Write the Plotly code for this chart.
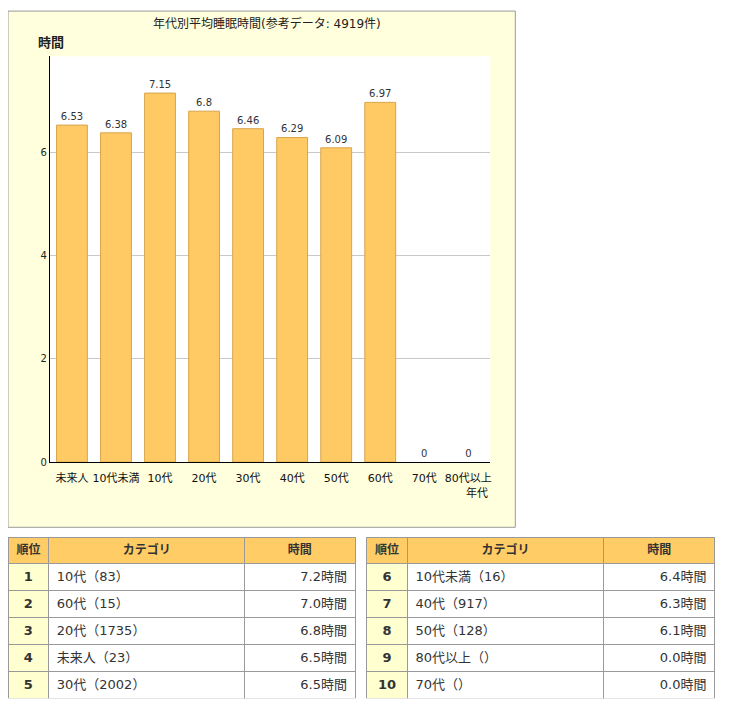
import plotly.graph_objects as go

# chart data
categories = ["未来人", "10代未満", "10代", "20代", "30代", "40代", "50代", "60代", "70代", "80代以上"]
hours = [6.53, 6.38, 7.15, 6.8, 6.46, 6.29, 6.09, 6.97, 0, 0]
counts = [23, 16, 83, 1735, 2002, 917, 128, 15, None, None]
y_ticks = [0, 2, 4, 6]

# ranking order as shown in the tables
rank_order = ["10代", "60代", "20代", "未来人", "30代", "10代未満", "40代", "50代", "80代以上", "70代"]

# the page body adds an 8px margin on every side; the capture shrinks a little vertically
OFF = 8
SY = 0.9905
W, H = 745 - 2 * OFF, 712 - 2 * OFF
FONT = "DejaVu Sans, Noto Sans CJK JP"


def px_x(v):
    return max(v - OFF, 0) / W


def px_y(v):
    return 1 - max(v / SY - OFF, 0) / H


fig = go.Figure()

fig.add_trace(go.Bar(
    x=categories, y=hours,
    text=[f"{v:g}" for v in hours], textposition="outside",
    textfont=dict(size=10, color="#333333", family=FONT),
    marker=dict(color="#FFC964",
                line=dict(color="#D9A44A", width=[1 if v > 0 else 0 for v in hours])),
    cliponaxis=False, hoverinfo="x+y",
))

# ranking tables
rows = []
for i, cat in enumerate(rank_order):
    k = categories.index(cat)
    cnt = "" if counts[k] is None else str(counts[k])
    rows.append((str(i + 1), f"{cat}（{cnt}）", f"{hours[k]:.1f}時間"))

for part, (x0, x1) in zip([rows[:5], rows[5:]], [(8, 356), (367, 716)]):
    fig.add_trace(go.Table(
        domain=dict(x=[px_x(x0), px_x(x1)], y=[px_y(697), px_y(536)]),
        columnwidth=[41, 197, 111],
        header=dict(
            values=["順位", "カテゴリ", "時間"],
            fill_color="#FFCC66", line_color="#999999",
            align="center", height=26,
            font=dict(size=12, color="#333333", family=FONT, weight="bold"),
        ),
        cells=dict(
            values=[[r[0] for r in part], [r[1] for r in part], [r[2] for r in part]],
            fill_color=["#FFFFD0", "white", "white"], line_color="#999999",
            align=["center", "left", "right"], height=27,
            font=dict(size=13, color="#333333", family=FONT,
                      weight=["bold", "normal", "normal"]),
        ),
    ))

# chart panel background
fig.add_shape(type="rect", xref="paper", yref="paper",
              x0=px_x(8), x1=px_x(516), y0=px_y(526), y1=px_y(11),
              fillcolor="#FFFFDD", line=dict(color="#999999", width=1), layer="below")
fig.add_shape(type="rect", xref="x domain", yref="y domain",
              x0=0, x1=1, y0=0, y1=1,
              fillcolor="white", line=dict(width=0), layer="below")

fig.add_annotation(text="年代別平均睡眠時間(参考データ: 4919件)", xref="paper", yref="paper",
                   x=px_x(267), y=px_y(23), yanchor="middle", showarrow=False,
                   font=dict(size=12, color="#222222", family=FONT))
fig.add_annotation(text="時間", xref="paper", yref="paper",
                   x=px_x(36), y=px_y(42), xanchor="left", yanchor="middle", showarrow=False,
                   font=dict(size=13, color="#222222", family=FONT, weight="bold"))
fig.add_annotation(text="年代", xref="paper", yref="paper",
                   x=px_x(491), y=px_y(492), xanchor="right", yanchor="middle", showarrow=False,
                   font=dict(size=11, color="#111111", family=FONT))

fig.update_layout(
    width=W, height=H,
    margin=dict(l=0, r=0, t=0, b=0),
    paper_bgcolor="white", plot_bgcolor="white",
    showlegend=False, bargap=0.3,
    font=dict(family=FONT, color="#222222"),
    xaxis=dict(domain=[px_x(50), px_x(491)], showline=True, linecolor="black",
               linewidth=1, ticks="", tickfont=dict(size=11, color="#111111"),
               ticklabelstandoff=6, fixedrange=True),
    yaxis=dict(domain=[px_y(461), px_y(56)], range=[0, 7.865], tickvals=y_ticks,
               showline=True, linecolor="black", linewidth=1, showgrid=True,
               gridcolor="#C8C8C8", zeroline=False, tickfont=dict(size=10),
               ticks="", fixedrange=True),
)

fig.write_html("out.html")
